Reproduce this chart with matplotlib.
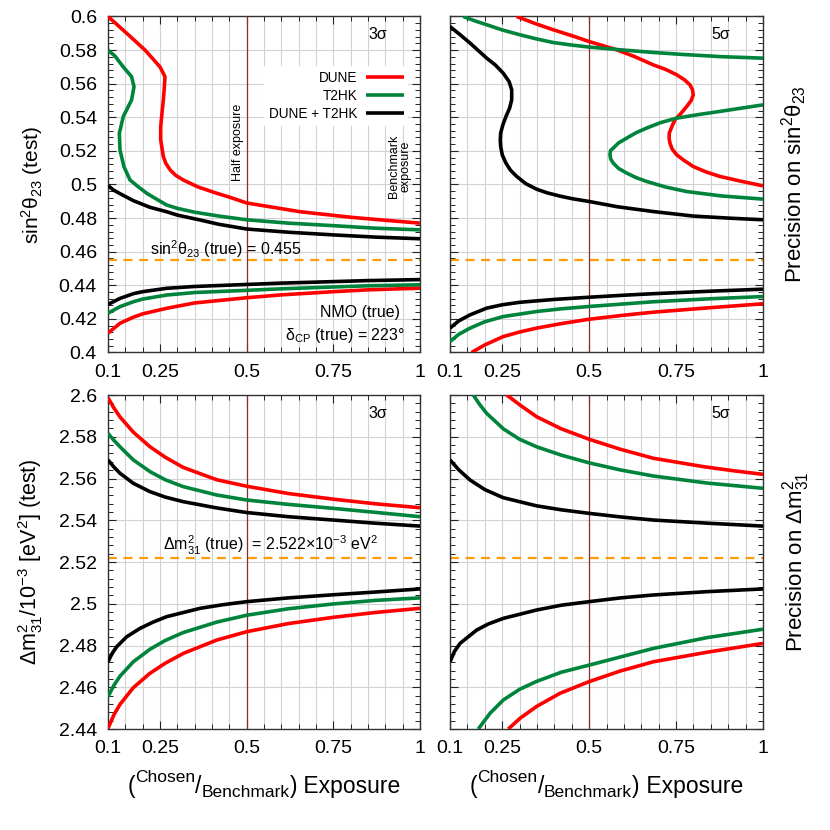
import matplotlib
matplotlib.use('Agg')
import matplotlib.pyplot as plt
from matplotlib.ticker import MultipleLocator, FixedLocator

plt.rcParams['font.family'] = ['Liberation Sans', 'DejaVu Sans']
plt.rcParams['mathtext.fontset'] = 'custom'
plt.rcParams['mathtext.rm'] = 'Liberation Sans'
plt.rcParams['mathtext.it'] = 'Liberation Sans:italic'
plt.rcParams['mathtext.bf'] = 'Liberation Sans:bold'

# ---------------- data: sin^2 theta23, 3 sigma ----------------
s3_dune_up_x = [0.1, 0.154, 0.207, 0.25, 0.2644, 0.2625, 0.2596, 0.2555, 0.252, 0.252, 0.2596, 0.267, 0.28, 0.295, 0.317, 0.36, 0.4135, 0.45, 0.5, 0.654, 0.8, 0.9, 1.0]
s3_dune_up_y = [0.6, 0.59, 0.58, 0.57, 0.5642, 0.558, 0.5503, 0.542, 0.5344, 0.5265, 0.5166, 0.5125, 0.5085, 0.5055, 0.5027, 0.4985, 0.4948, 0.4925, 0.489, 0.4838, 0.4805, 0.4787, 0.477]
s3_t2hk_up_x = [0.1, 0.12, 0.144, 0.168, 0.175, 0.168, 0.144, 0.1327, 0.1346, 0.146, 0.1635, 0.185, 0.2116, 0.23, 0.269, 0.3, 0.35, 0.42, 0.5, 0.62, 0.75, 0.87, 1.0]
s3_t2hk_up_y = [0.58, 0.5765, 0.57, 0.5642, 0.5582, 0.5503, 0.5404, 0.5305, 0.5205, 0.5106, 0.5027, 0.499, 0.4948, 0.4925, 0.4878, 0.4858, 0.4835, 0.4812, 0.479, 0.477, 0.4755, 0.474, 0.473]
s3_comb_up_x = [0.1, 0.115, 0.135, 0.173, 0.22, 0.269, 0.3, 0.365, 0.42, 0.5, 0.62, 0.75, 0.87, 1.0]
s3_comb_up_y = [0.4994, 0.4968, 0.4945, 0.4904, 0.4865, 0.4838, 0.4818, 0.4789, 0.4763, 0.4735, 0.4716, 0.47, 0.4687, 0.4677]
s3_lo_x = [0.1, 0.1346, 0.173, 0.2, 0.269, 0.35, 0.5, 0.6, 0.75, 0.85, 1.0]
s3_dune_lo_y = [0.4115, 0.4174, 0.421, 0.423, 0.4263, 0.4295, 0.4326, 0.4343, 0.4362, 0.4373, 0.4383]
s3_t2hk_lo_y = [0.4234, 0.4273, 0.4302, 0.4318, 0.4342, 0.4357, 0.437, 0.4379, 0.439, 0.4397, 0.4403]
s3_comb_lo_y = [0.4286, 0.4322, 0.435, 0.4362, 0.4382, 0.4393, 0.4405, 0.4413, 0.4422, 0.4428, 0.4434]

# ---------------- data: sin^2 theta23, 5 sigma ----------------
s5_dune_a_x = [0.2917, 0.345, 0.397, 0.45, 0.5, 0.579, 0.63, 0.6845, 0.72, 0.7518, 0.775, 0.79, 0.797, 0.7995, 0.7935, 0.7805, 0.765, 0.7469, 0.738, 0.7305, 0.73, 0.7325, 0.739, 0.7518, 0.772, 0.7995, 0.836, 0.876, 0.94, 1.0]
s5_dune_a_y = [0.6, 0.5958, 0.5921, 0.5886, 0.5851, 0.5802, 0.5762, 0.5712, 0.5685, 0.5653, 0.5622, 0.5593, 0.5565, 0.5534, 0.55, 0.5464, 0.5425, 0.5385, 0.5345, 0.5306, 0.5275, 0.5246, 0.521, 0.5177, 0.5145, 0.5107, 0.5075, 0.5048, 0.5018, 0.4992]
s5_t2hk_a_x = [0.138, 0.17, 0.2055, 0.25, 0.3012, 0.35, 0.397, 0.45, 0.5, 0.6, 0.6845, 0.77, 0.88, 1.0]
s5_t2hk_a_y = [0.6, 0.5975, 0.5951, 0.592, 0.5891, 0.5866, 0.5845, 0.583, 0.5818, 0.5800, 0.5786, 0.5774, 0.5761, 0.5752]
s5_t2hk_b_x = [1.0, 0.876, 0.82, 0.7518, 0.705, 0.6655, 0.635, 0.608, 0.585, 0.5695, 0.5615, 0.56, 0.562, 0.5695, 0.585, 0.608, 0.635, 0.6655, 0.72, 0.7805, 0.88, 1.0]
s5_t2hk_b_y = [0.5474, 0.5435, 0.5418, 0.5395, 0.5368, 0.5336, 0.5308, 0.5276, 0.5248, 0.5217, 0.5202, 0.5177, 0.5152, 0.5127, 0.5095, 0.5068, 0.5041, 0.5018, 0.4985, 0.4958, 0.4932, 0.4913]
s5_comb_up_x = [0.1, 0.13, 0.1575, 0.2055, 0.23, 0.2533, 0.27, 0.2774, 0.2774, 0.2715, 0.261, 0.252, 0.2457, 0.2445, 0.2457, 0.2505, 0.261, 0.274, 0.2917, 0.318, 0.349, 0.38, 0.416, 0.45, 0.5, 0.58, 0.6845, 0.8, 0.9, 1.0]
s5_comb_up_y = [0.594, 0.589, 0.5842, 0.5752, 0.5712, 0.5662, 0.5612, 0.5564, 0.5504, 0.5455, 0.5405, 0.5355, 0.5306, 0.5265, 0.5226, 0.5175, 0.5127, 0.5085, 0.5048, 0.5005, 0.4972, 0.4950, 0.4931, 0.4916, 0.4899, 0.4868, 0.4839, 0.4812, 0.48, 0.479]
s5_comb_lo_x = [0.1, 0.125, 0.1575, 0.2055, 0.25, 0.3012, 0.4, 0.5, 0.6, 0.6845, 0.85, 1.0]
s5_comb_lo_y = [0.4145, 0.4188, 0.4224, 0.4264, 0.4284, 0.4299, 0.4316, 0.4329, 0.4341, 0.435, 0.4365, 0.4377]
s5_t2hk_lo_x = [0.1, 0.125, 0.1575, 0.2, 0.2533, 0.349, 0.42, 0.5, 0.6, 0.6845, 0.85, 1.0]
s5_t2hk_lo_y = [0.4065, 0.4108, 0.4145, 0.4183, 0.4214, 0.4244, 0.426, 0.4274, 0.4289, 0.4302, 0.432, 0.4333]
s5_dune_lo_x = [0.162, 0.2, 0.2533, 0.3, 0.349, 0.42, 0.5, 0.6, 0.6845, 0.85, 1.0]
s5_dune_lo_y = [0.4, 0.4045, 0.4095, 0.4122, 0.4145, 0.4172, 0.4198, 0.4222, 0.424, 0.4267, 0.429]

# ---------------- data: dm31, 3 sigma ----------------
m3_up_x = [0.1, 0.117, 0.1346, 0.173, 0.2211, 0.265, 0.317, 0.4135, 0.5, 0.62, 0.75, 0.87, 1.0]
m3_dune_up = [2.5987, 2.5938, 2.5895, 2.5822, 2.5752, 2.5702, 2.5653, 2.5594, 2.5563, 2.5528, 2.5501, 2.5479, 2.546]
m3_t2hk_up = [2.5816, 2.5783, 2.5752, 2.5689, 2.5633, 2.5594, 2.5561, 2.5521, 2.5497, 2.5476, 2.5457, 2.5438, 2.5417]
m3_comb_up = [2.5689, 2.5655, 2.5625, 2.5577, 2.5537, 2.5511, 2.5489, 2.5459, 2.5437, 2.5417, 2.5401, 2.5386, 2.5372]
m3_comb_lo_x = [0.1, 0.112, 0.125, 0.154, 0.1923, 0.23, 0.269, 0.3654, 0.43, 0.5, 0.62, 0.75, 0.87, 1.0]
m3_comb_lo_y = [2.4722, 2.4762, 2.4794, 2.4842, 2.4882, 2.4912, 2.4938, 2.4978, 2.4995, 2.501, 2.5028, 2.5043, 2.5056, 2.5071]
m3_lo_x = [0.1, 0.117, 0.1346, 0.173, 0.2211, 0.265, 0.317, 0.4135, 0.5, 0.62, 0.75, 0.87, 1.0]
m3_t2hk_lo = [2.4555, 2.4609, 2.4653, 2.4722, 2.4782, 2.4824, 2.4862, 2.4912, 2.4945, 2.4976, 2.4999, 2.5016, 2.5028]
m3_dune_lo = [2.4403, 2.4468, 2.4518, 2.4598, 2.4667, 2.4715, 2.4762, 2.4826, 2.4866, 2.4905, 2.4935, 2.4958, 2.4978]

# ---------------- data: dm31, 5 sigma ----------------
m5_dune_up_x = [0.263, 0.3012, 0.349, 0.42, 0.5, 0.59, 0.6845, 0.828, 0.92, 1.0]
m5_dune_up_y = [2.6, 2.5952, 2.5896, 2.5838, 2.5788, 2.574, 2.5697, 2.5657, 2.5636, 2.562]
m5_t2hk_up_x = [0.167, 0.185, 0.2055, 0.2533, 0.3, 0.349, 0.42, 0.5, 0.59, 0.6845, 0.84, 1.0]
m5_t2hk_up_y = [2.6, 2.5955, 2.5912, 2.5838, 2.5788, 2.5752, 2.5712, 2.5675, 2.5641, 2.5612, 2.5578, 2.5553]
m5_comb_up_x = [0.1, 0.125, 0.1575, 0.2, 0.2533, 0.349, 0.42, 0.5, 0.59, 0.6845, 0.84, 1.0]
m5_comb_up_y = [2.5689, 2.5642, 2.5593, 2.5547, 2.5508, 2.5469, 2.545, 2.5433, 2.5416, 2.5401, 2.5386, 2.5372]
m5_comb_lo_x = [0.1, 0.113, 0.1288, 0.1767, 0.21, 0.2533, 0.349, 0.42, 0.5, 0.59, 0.6845, 0.84, 1.0]
m5_comb_lo_y = [2.4722, 2.4772, 2.481, 2.4874, 2.4903, 2.493, 2.497, 2.4993, 2.501, 2.5028, 2.5042, 2.5058, 2.5071]
m5_t2hk_lo_x = [0.1814, 0.215, 0.2533, 0.3, 0.349, 0.42, 0.5, 0.59, 0.6845, 0.84, 1.0]
m5_t2hk_lo_y = [2.44, 2.4475, 2.4539, 2.459, 2.4628, 2.4672, 2.4706, 2.4745, 2.4786, 2.4838, 2.4878]
m5_dune_lo_x = [0.2676, 0.3012, 0.349, 0.4163, 0.5, 0.59, 0.6845, 0.84, 1.0]
m5_dune_lo_y = [2.44, 2.4451, 2.4508, 2.4571, 2.4627, 2.4678, 2.4722, 2.4768, 2.481]

true_s23 = 0.455
true_dm31 = 2.522
x_ticks = [0.1, 0.25, 0.5, 0.75, 1.0]
x_tick_labels = ['0.1', '0.25', '0.5', '0.75', '1']
s23_ticks = [0.4, 0.42, 0.44, 0.46, 0.48, 0.5, 0.52, 0.54, 0.56, 0.58, 0.6]
s23_labels = ['0.4', '0.42', '0.44', '0.46', '0.48', '0.5', '0.52', '0.54', '0.56', '0.58', '0.6']
dm_ticks = [2.44, 2.46, 2.48, 2.5, 2.52, 2.54, 2.56, 2.58, 2.6]
dm_labels = ['2.44', '2.46', '2.48', '2.5', '2.52', '2.54', '2.56', '2.58', '2.6']

RED = '#ff0000'
GREEN = '#00843c'
BLACK = '#000000'
ORANGE = '#ff9a0a'
VLINE = '#8b2b2b'
LW = 2.6

fig = plt.figure(figsize=(8.3, 8.3), dpi=100)
W = 830.0
def pos(l, r, t, b):
    return [l / W, 1 - b / W, (r - l) / W, (b - t) / W]

ax_tl = fig.add_axes(pos(108, 420, 16.5, 352.5))
ax_tr = fig.add_axes(pos(450, 763, 16.5, 352.5))
ax_bl = fig.add_axes(pos(108, 420, 395, 729))
ax_br = fig.add_axes(pos(450, 763, 395, 729))

def style(ax, ylim, yticks, ylabels, show_ylabels):
    ax.set_xlim(0.1, 1.0)
    ax.set_ylim(*ylim)
    ax.xaxis.set_major_locator(FixedLocator(x_ticks))
    ax.set_xticklabels(x_tick_labels)
    ax.xaxis.set_minor_locator(MultipleLocator(0.05))
    ax.yaxis.set_major_locator(FixedLocator(yticks))
    ax.yaxis.set_minor_locator(MultipleLocator(0.004))
    if show_ylabels:
        ax.set_yticklabels(ylabels)
    else:
        ax.set_yticklabels([])
    ax.tick_params(which='both', direction='in', top=True, right=True, color='#222222')
    ax.tick_params(which='major', length=6, width=0.8, labelsize=14, pad=8)
    ax.tick_params(which='minor', length=3.5, width=0.7)
    ax.grid(True, which='major', axis='both', color='#d2d2d2', lw=0.8)
    ax.grid(True, which='minor', axis='x', color='#d2d2d2', lw=0.8)
    ax.set_axisbelow(True)
    for sp in ax.spines.values():
        sp.set_color('#333333')
        sp.set_linewidth(1.0)
    ax.axvline(0.5, color=VLINE, lw=0.9, zorder=2)

style(ax_tl, (0.4, 0.6), s23_ticks, s23_labels, True)
style(ax_tr, (0.4, 0.6), s23_ticks, s23_labels, False)
style(ax_bl, (2.44, 2.6), dm_ticks, dm_labels, True)
style(ax_br, (2.44, 2.6), dm_ticks, dm_labels, False)

kw = dict(lw=LW, solid_capstyle='butt', solid_joinstyle='round', zorder=3)
dkw = dict(color=ORANGE, lw=1.6, ls=(0, (4, 3)), zorder=2)

# top-left
ax_tl.axhline(true_s23, **dkw)
ax_tl.plot(s3_dune_up_x, s3_dune_up_y, color=RED, label='DUNE', **kw)
ax_tl.plot(s3_t2hk_up_x, s3_t2hk_up_y, color=GREEN, label='T2HK', **kw)
ax_tl.plot(s3_comb_up_x, s3_comb_up_y, color=BLACK, label='DUNE + T2HK', **kw)
ax_tl.plot(s3_lo_x, s3_dune_lo_y, color=RED, **kw)
ax_tl.plot(s3_lo_x, s3_t2hk_lo_y, color=GREEN, **kw)
ax_tl.plot(s3_lo_x, s3_comb_lo_y, color=BLACK, **kw)

# top-right
ax_tr.axhline(true_s23, **dkw)
ax_tr.plot(s5_dune_a_x, s5_dune_a_y, color=RED, **kw)
ax_tr.plot(s5_t2hk_a_x, s5_t2hk_a_y, color=GREEN, **kw)
ax_tr.plot(s5_t2hk_b_x, s5_t2hk_b_y, color=GREEN, **kw)
ax_tr.plot(s5_comb_up_x, s5_comb_up_y, color=BLACK, **kw)
ax_tr.plot(s5_comb_lo_x, s5_comb_lo_y, color=BLACK, **kw)
ax_tr.plot(s5_t2hk_lo_x, s5_t2hk_lo_y, color=GREEN, **kw)
ax_tr.plot(s5_dune_lo_x, s5_dune_lo_y, color=RED, **kw)

# bottom-left
ax_bl.axhline(true_dm31, **dkw)
ax_bl.plot(m3_up_x, m3_dune_up, color=RED, **kw)
ax_bl.plot(m3_up_x, m3_t2hk_up, color=GREEN, **kw)
ax_bl.plot(m3_up_x, m3_comb_up, color=BLACK, **kw)
ax_bl.plot(m3_comb_lo_x, m3_comb_lo_y, color=BLACK, **kw)
ax_bl.plot(m3_lo_x, m3_t2hk_lo, color=GREEN, **kw)
ax_bl.plot(m3_lo_x, m3_dune_lo, color=RED, **kw)

# bottom-right
ax_br.axhline(true_dm31, **dkw)
ax_br.plot(m5_dune_up_x, m5_dune_up_y, color=RED, **kw)
ax_br.plot(m5_t2hk_up_x, m5_t2hk_up_y, color=GREEN, **kw)
ax_br.plot(m5_comb_up_x, m5_comb_up_y, color=BLACK, **kw)
ax_br.plot(m5_comb_lo_x, m5_comb_lo_y, color=BLACK, **kw)
ax_br.plot(m5_t2hk_lo_x, m5_t2hk_lo_y, color=GREEN, **kw)
ax_br.plot(m5_dune_lo_x, m5_dune_lo_y, color=RED, **kw)

# legend
leg = ax_tl.legend(loc='upper right', bbox_to_anchor=(0.963, 0.852), markerfirst=False,
                   fontsize=9.8, frameon=True, fancybox=False, framealpha=1.0,
                   edgecolor='none', facecolor='white', handlelength=2.8,
                   handletextpad=0.6, labelspacing=0.3, borderpad=0.35, borderaxespad=0)
for t in leg.get_texts():
    t.set_ha('right')
leg.set_zorder(5)

# sigma labels
for ax, s in [(ax_tl, '3σ'), (ax_tr, '5σ'), (ax_bl, '3σ'), (ax_br, '5σ')]:
    ax.text(0.865, 0.945, s, transform=ax.transAxes, ha='center', va='center', fontsize=11.5)

# annotations
ax_tl.text(0.475, 0.5253, 'Half exposure', rotation=90, ha='center', va='center', fontsize=9)
ax_tl.text(0.942, 0.511, 'Benchmark\nexposure', rotation=90, ha='center', va='center',
           fontsize=9, linespacing=0.9)
ax_tl.text(0.221, 0.4616, r'sin$^2$θ$_{23}$ (true) = 0.455', ha='left', va='center', fontsize=11.5)
ax_tl.text(0.942, 0.4237, 'NMO (true)', ha='right', va='center', fontsize=11.5)
ax_tl.text(0.957, 0.4104, r'δ$_{\mathrm{CP}}$ (true) = 223°', ha='right', va='center', fontsize=11.5)
ax_bl.text(0.2586, 2.5281, r'Δm$^2_{31}$ (true)  = 2.522×10$^{-3}$ eV$^2$', ha='left', va='center', fontsize=11.5)

# axis labels
ax_tl.set_ylabel(r'sin$^2$θ$_{23}$ (test)', fontsize=15, labelpad=10)
ax_bl.set_ylabel(r'Δm$^2_{31}$/10$^{-3}$ [eV$^2$] (test)', fontsize=15.5, labelpad=10)
ax_tr.yaxis.set_label_position('right')
ax_tr.set_ylabel(r'Precision on sin$^2$θ$_{23}$', fontsize=16, labelpad=12)
ax_br.yaxis.set_label_position('right')
ax_br.set_ylabel(r'Precision on Δm$^2_{31}$', fontsize=16, labelpad=12)

# x labels built from pieces: (^Chosen/_Benchmark) Exposure
fig.canvas.draw()
renderer = fig.canvas.get_renderer()
pieces = [('(', 16.5, 0), ('Chosen', 12.5, 11), ('/', 16.5, 0), ('Benchmark', 12.5, -4), (')', 16.5, 0), (' Exposure', 16.5, 0)]
widths = []
for s, fs, dy in pieces:
    t = fig.text(0, 0, s, fontsize=fs)
    widths.append(t.get_window_extent(renderer).width)
    t.remove()
total = sum(widths)
baseline = 793.0
for ax in (ax_bl, ax_br):
    bb = ax.get_window_extent(renderer)
    x0 = (bb.x0 + bb.x1) / 2 - total / 2
    for (s, fs, dy), w in zip(pieces, widths):
        fig.text(x0 / W, (W - baseline + dy) / W, s, fontsize=fs, ha='left', va='baseline')
        x0 += w

fig.savefig('out.png', dpi=100)
